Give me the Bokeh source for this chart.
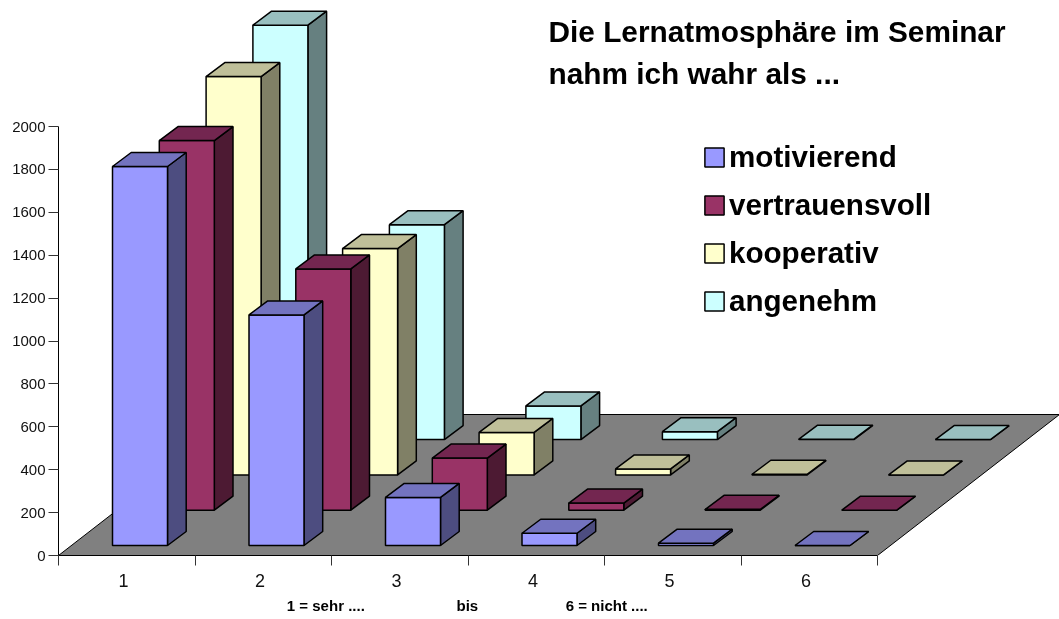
from bokeh.plotting import figure
from bokeh.models import FixedTicker, Label, Legend, LegendItem, Range1d
from bokeh.embed import file_html
from bokeh.resources import INLINE

categories = ["1", "2", "3", "4", "5", "6"]
motivierend = [1767, 1075, 224, 57, 11, 0]
vertrauensvoll = [1723, 1125, 243, 33, 4, 0]
kooperativ = [1857, 1055, 198, 28, 3, 0]
angenehm = [1932, 1002, 157, 37, 2, 0]
series_names = ["motivierend", "vertrauensvoll", "kooperativ", "angenehm"]
series_values = [motivierend, vertrauensvoll, kooperativ, angenehm]
front_colors = ["#9999FF", "#993366", "#FFFFCC", "#CCFFFF"]
side_colors = ["#4D4D80", "#4D1A33", "#808066", "#668080"]
top_colors = ["#7373BF", "#732650", "#BFBF99", "#99BFBF"]
y_ticks = list(range(0, 2001, 200))
# trailing no-break spaces centre the title under the 6 categories rather than under the frame
axis_title = "1 = sehr ...." + "\u00a0" * 22 + "bis" + "\u00a0" * 21 + "6 = nicht ...." + "\u00a0" * 44

W, H = 1059, 619
LEFT, BASE = 58, 555
PX_CAT = 136.5
PX_UNIT = 429 / 2000

def dx(px):
    return px / PX_CAT

def dy(px):
    return px / PX_UNIT

def X(px):
    return dx(px - LEFT)

def Y(py):
    return dy(BASE - py)

p = figure(width=W, height=H, output_backend="svg", toolbar_location=None,
           x_range=Range1d(0, dx(W - LEFT)), y_range=Range1d(0, dy(BASE)),
           min_border_left=LEFT, min_border_right=0, min_border_top=0,
           min_border_bottom=H - BASE,
           styles={"position": "fixed", "left": "0px", "top": "0px"},
           outline_line_color=None, background_fill_color="white")
p.grid.visible = False

FONT = "Liberation Sans"

# axes
xa, ya = p.xaxis[0], p.yaxis[0]
xa.ticker = FixedTicker(ticks=[i + 0.476 for i in range(len(categories))],
                        minor_ticks=list(range(len(categories) + 1)))
xa.major_label_overrides = {i + 0.476: c for i, c in enumerate(categories)}
xa.bounds = (0, len(categories))
xa.major_tick_line_color = None
xa.major_tick_in = 0
xa.major_tick_out = 10
xa.minor_tick_in = 0
xa.minor_tick_out = 10
xa.minor_tick_line_color = "#333333"
xa.axis_line_color = "black"
xa.major_label_standoff = 8
xa.major_label_text_font = FONT
xa.major_label_text_font_size = "18px"
xa.major_label_text_color = "#111111"
xa.axis_label = axis_title
xa.axis_label_standoff = 7
xa.axis_label_text_font = FONT
xa.axis_label_text_font_style = "bold"
xa.axis_label_text_font_size = "15px"
xa.axis_label_text_color = "black"

ya.ticker = FixedTicker(ticks=y_ticks)
ya.bounds = (0, 2000)
ya.major_tick_in = 0
ya.major_tick_out = 10
ya.major_tick_line_color = "#333333"
ya.minor_tick_line_color = None
ya.axis_line_color = "black"
ya.major_label_standoff = 3
ya.major_label_text_font = FONT
ya.major_label_text_font_size = "15px"
ya.major_label_text_color = "#111111"

# floor
n = len(categories)
fd_x, fd_y = dx(182), dy(141)
p.patch([0, n, n + fd_x, fd_x], [0, 0, fd_y, fd_y], fill_color="#808080",
        line_color="black", line_width=1)

# bars, back series first
inset_x, inset_y = dx(54), dy(10)
step_x, step_y = dx(46.8), dy(35.3)
bar_w = dx(55)
dep_x, dep_y = dx(18.7), dy(14)
LW = 1.5

legend_rs = {}
for s in reversed(range(len(series_values))):
    fx, fy, sx, sy, tx, ty = [], [], [], [], [], []
    for c, v in enumerate(series_values[s]):
        x0 = c + inset_x + s * step_x
        x1 = x0 + bar_w
        y0 = inset_y + s * step_y
        y1 = y0 + v
        fx.append([x0, x1, x1, x0]); fy.append([y0, y0, y1, y1])
        sx.append([x1, x1 + dep_x, x1 + dep_x, x1]); sy.append([y0, y0 + dep_y, y1 + dep_y, y1])
        tx.append([x0, x1, x1 + dep_x, x0 + dep_x]); ty.append([y1, y1, y1 + dep_y, y1 + dep_y])
    p.patches(sx, sy, fill_color=side_colors[s], line_color="black", line_width=LW)
    r = p.patches(fx, fy, fill_color=front_colors[s], line_color="black", line_width=LW)
    p.patches(tx, ty, fill_color=top_colors[s], line_color="black", line_width=LW)
    legend_rs[s] = r

# legend
legend = Legend(items=[LegendItem(label=series_names[s], renderers=[legend_rs[s]])
                       for s in range(len(series_names))],
                location=(702 - LEFT, BASE - 318), orientation="vertical",
                background_fill_alpha=0, border_line_color=None,
                glyph_width=24, glyph_height=24, label_standoff=3,
                label_text_font=FONT, label_text_font_style="bold",
                label_text_font_size="29.6px", label_text_color="black",
                label_height=24, spacing=14, padding=0, margin=0)
p.add_layout(legend)

# texts
def lab(px, py, text, size, align="left", bold=True):
    p.add_layout(Label(x=X(px), y=Y(py), text=text, text_font=FONT,
                       text_font_style="bold" if bold else "normal",
                       text_font_size=size, text_align=align,
                       text_baseline="middle", text_color="black"))

lab(548, 31, "Die Lernatmosphäre im Seminar", "29.8px")
lab(548, 73, "nahm ich wahr als ...", "29.8px")

open("out.html", "w").write(file_html(p, INLINE))
